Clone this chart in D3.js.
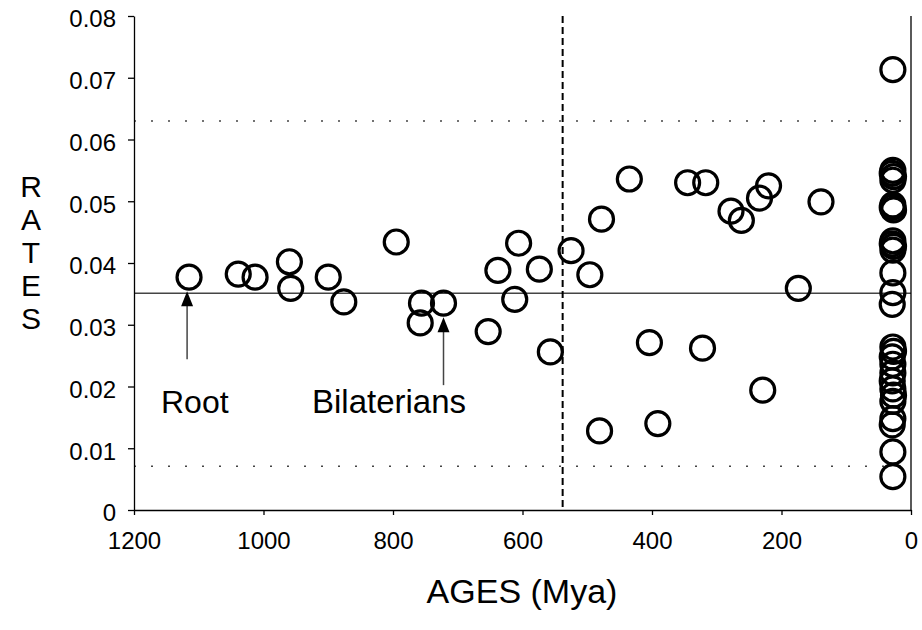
<!DOCTYPE html>
<html>
<head>
<style>
body { margin: 0; background: #fff; }
text { font-family: "Liberation Sans", Arial, sans-serif; fill: #000; }
.axis path, .axis line { stroke: #000; stroke-width: 1.3; }
.dot { fill: none; stroke: #000; stroke-width: 3.2; }
</style>
<title>rates</title>
<script src="https://cdn.jsdelivr.net/npm/d3@7/dist/d3.min.js"></script>
</head>
<body>
<svg width="922" height="630"></svg>
<script>

// ages (Mya) and rates
var ages = [1115, 1039, 1013, 960, 958, 900, 876, 795, 756, 758, 722,
            653, 638, 612, 606, 574, 557, 525, 496, 478, 481, 435, 404, 391,
            345, 322, 317, 278, 262, 234, 229, 220, 174, 139,
            28, 28, 29, 27, 28, 28, 29, 27, 28, 29, 27, 28, 28, 28, 29,
            28, 27, 29, 28, 28, 29, 28, 27, 28, 28, 29, 28, 28];
var rates = [0.0377, 0.0382, 0.0377, 0.0402, 0.0359, 0.0377, 0.0337, 0.0434, 0.0335, 0.0303, 0.0335,
             0.0289, 0.0388, 0.0341, 0.0432, 0.0390, 0.0256, 0.0420, 0.0381, 0.0471, 0.0128, 0.0536, 0.0271, 0.0140,
             0.0530, 0.0262, 0.0530, 0.0484, 0.0469, 0.0505, 0.0194, 0.0525, 0.0359, 0.0499,
             0.0713, 0.0550, 0.0545, 0.0540, 0.0534, 0.0494, 0.0490, 0.0486, 0.0436, 0.0431, 0.0427, 0.0421, 0.0384, 0.0352, 0.0333,
             0.0264, 0.0257, 0.0248, 0.0236, 0.0222, 0.0209, 0.0196, 0.0186, 0.0176, 0.0148, 0.0138, 0.0094, 0.0054];

var xTicks = [1200, 1000, 800, 600, 400, 200, 0];
var yTicks = [0, 0.01, 0.02, 0.03, 0.04, 0.05, 0.06, 0.07, 0.08];

var meanRate = 0.0351;
var limits = [0.0630, 0.0071];
var cambrian = 538;

var notes = [
  {label: "Root", age: 1118, rate: 0.0377},
  {label: "Bilaterians", age: 722, rate: 0.0335}
];

var svg = d3.select("svg"),
    margin = {top: 16, right: 11, bottom: 120, left: 134},
    width = +svg.attr("width") - margin.left - margin.right,
    height = +svg.attr("height") - margin.top - margin.bottom;

var x = d3.scaleLinear().domain([1200, 0]).range([0, width]),
    y = d3.scaleLinear().domain([0, 0.08]).range([height, 0]);

var g = svg.append("g")
    .attr("transform", "translate(" + margin.left + "," + margin.top + ")");

// reference lines
g.selectAll(".limit")
  .data(limits)
  .enter().append("line")
    .attr("x1", 0).attr("x2", width)
    .attr("y1", function(d) { return y(d); })
    .attr("y2", function(d) { return y(d); })
    .attr("stroke", "#444")
    .attr("stroke-width", 1.5)
    .attr("stroke-dasharray", "2,15");

g.append("line")
    .attr("x1", 0).attr("x2", width)
    .attr("y1", y(meanRate)).attr("y2", y(meanRate))
    .attr("stroke", "#444")
    .attr("stroke-width", 1.4);

g.append("line")
    .attr("x1", x(cambrian)).attr("x2", x(cambrian))
    .attr("y1", 0).attr("y2", height)
    .attr("stroke", "#000")
    .attr("stroke-width", 2)
    .attr("stroke-dasharray", "7,4");

// axes
var yFormat = function(d) { return d === 0 ? "0" : d3.format(".2f")(d); };

g.append("g")
    .attr("class", "axis axis--y")
    .call(d3.axisLeft(y).tickValues(yTicks).tickFormat(yFormat).tickSizeInner(6).tickSizeOuter(0).tickPadding(12))
    .selectAll("text").style("font-size", "24px").attr("dy", "0.45em");

g.append("g")
    .attr("class", "axis axis--x")
    .attr("transform", "translate(0," + height + ")")
    .call(d3.axisBottom(x).tickValues(xTicks).tickFormat(d3.format("d")).tickSizeInner(5).tickSizeOuter(0).tickPadding(17))
    .selectAll("text").style("font-size", "24px");

// right border
g.append("line")
    .attr("x1", width).attr("x2", width)
    .attr("y1", 0).attr("y2", height)
    .attr("stroke", "#000")
    .attr("stroke-width", 1.3);

// points
g.selectAll(".dot")
  .data(ages)
  .enter().append("circle")
    .attr("class", "dot")
    .attr("r", 12)
    .attr("cx", function(d) { return x(d); })
    .attr("cy", function(d, i) { return y(rates[i]); });

// arrows + labels
notes.forEach(function(n) {
  var ax = x(n.age), tip = y(n.rate) + 14;
  g.append("line")
      .attr("x1", ax).attr("x2", ax)
      .attr("y1", tip + 10).attr("y2", tip + 68)
      .attr("stroke", "#444")
      .attr("stroke-width", 1.5);
  g.append("path")
      .attr("d", "M" + ax + "," + tip + "L" + (ax - 6) + "," + (tip + 15) + "L" + (ax + 6) + "," + (tip + 15) + "Z")
      .attr("fill", "#000");
});

svg.append("text").attr("x", 161).attr("y", 413).style("font-size", "32px").text("Root");
svg.append("text").attr("x", 312).attr("y", 413).style("font-size", "33px").text("Bilaterians");

// axis titles
svg.append("text")
    .attr("x", 522).attr("y", 603)
    .attr("text-anchor", "middle")
    .style("font-size", "34px")
    .text("AGES (Mya)");

var rl = svg.append("text").attr("text-anchor", "middle").style("font-size", "30px");
"RATES".split("").forEach(function(c, i) {
  rl.append("tspan").attr("x", 31).attr("y", 197 + i * 33).text(c);
});

</script>
</body>
</html>
